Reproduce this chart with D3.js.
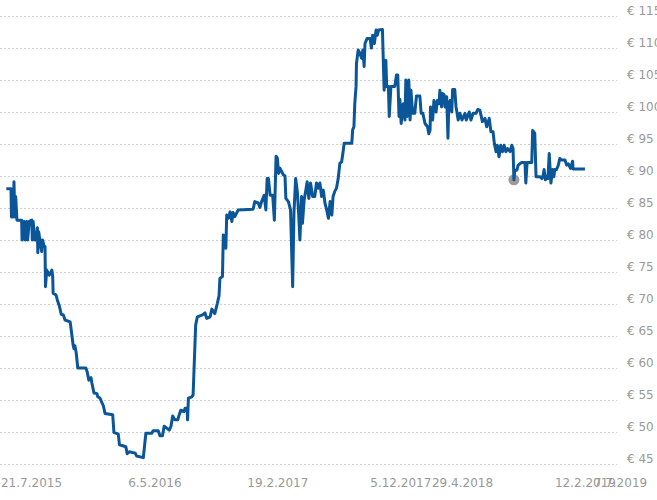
<!DOCTYPE html>
<html>
<head>
<meta charset="utf-8">
<script src="https://cdn.jsdelivr.net/npm/d3@7"></script>
<style>
  html, body { margin: 0; padding: 0; background: #fff; }
  svg { display: block; font-family: "DejaVu Sans", Verdana, sans-serif; }
</style>
</head>
<body>
<div id="chartId"></div>
<script>

// price history
var priceDates = [
  "2015-05-24","2015-06-04","2015-06-05","2015-06-09","2015-06-11","2015-06-13","2015-06-15","2015-06-18","2015-06-29","2015-06-30",
  "2015-07-05","2015-07-07","2015-07-11","2015-07-13","2015-07-17","2015-07-23","2015-07-24","2015-07-26","2015-07-30","2015-08-03",
  "2015-08-05","2015-08-06","2015-08-08","2015-08-11","2015-08-15","2015-08-17","2015-08-21","2015-08-23","2015-08-24","2015-08-27",
  "2015-09-02","2015-09-08","2015-09-10","2015-09-11","2015-09-18","2015-09-21","2015-09-26","2015-09-30","2015-10-05","2015-10-09",
  "2015-10-21","2015-10-23","2015-10-28","2015-10-30","2015-11-01","2015-11-04","2015-11-08","2015-11-27","2015-11-30","2015-12-04",
  "2015-12-09","2015-12-11","2015-12-16","2015-12-23","2015-12-25","2015-12-30","2016-01-07","2016-01-11","2016-01-29","2016-02-01",
  "2016-02-11","2016-02-14","2016-02-29","2016-03-03","2016-03-08","2016-03-22","2016-03-25","2016-04-10","2016-04-16","2016-04-30",
  "2016-05-03","2016-05-15","2016-05-19","2016-05-25","2016-05-29","2016-06-04","2016-06-10","2016-06-14","2016-06-18","2016-06-23",
  "2016-06-30","2016-07-02","2016-07-07","2016-07-15","2016-07-17","2016-07-22","2016-07-23","2016-07-25","2016-08-02","2016-08-05",
  "2016-08-08","2016-08-11","2016-08-15","2016-08-27","2016-09-02","2016-09-06","2016-09-14","2016-09-18","2016-09-25","2016-10-01",
  "2016-10-05","2016-10-07","2016-10-13","2016-10-15","2016-10-21","2016-10-23","2016-10-27","2016-10-31","2016-11-04","2016-11-07",
  "2016-11-11","2016-11-19","2016-12-24","2016-12-28","2017-01-05","2017-01-09","2017-01-13","2017-01-19","2017-01-23","2017-01-26",
  "2017-01-29","2017-02-02","2017-02-08","2017-02-12","2017-02-16","2017-02-19","2017-02-22","2017-02-25","2017-03-01","2017-03-05",
  "2017-03-09","2017-03-11","2017-03-17","2017-03-22","2017-03-27","2017-03-30","2017-04-03","2017-04-07","2017-04-10","2017-04-13",
  "2017-04-17","2017-04-19","2017-04-23","2017-04-27","2017-04-30","2017-05-04","2017-05-08","2017-05-13","2017-05-18","2017-05-22",
  "2017-05-26","2017-05-30","2017-06-03","2017-06-07","2017-06-11","2017-06-15","2017-06-19","2017-06-23","2017-06-27","2017-06-30",
  "2017-07-04","2017-07-08","2017-07-12","2017-07-16","2017-07-20","2017-07-23","2017-07-26","2017-08-13","2017-08-15","2017-08-18",
  "2017-08-20","2017-08-23","2017-08-24","2017-08-28","2017-09-01","2017-09-05","2017-09-08","2017-09-11","2017-09-13","2017-09-18",
  "2017-09-25","2017-09-28","2017-10-01","2017-10-05","2017-10-09","2017-10-12","2017-10-15","2017-10-24","2017-10-26","2017-10-28",
  "2017-11-01","2017-11-03","2017-11-07","2017-11-09","2017-11-13","2017-11-22","2017-11-26","2017-11-29","2017-12-02","2017-12-04",
  "2017-12-07","2017-12-12","2017-12-16","2017-12-18","2017-12-21","2017-12-25","2017-12-28","2017-12-30","2018-01-03","2018-01-08",
  "2018-01-12","2018-01-20","2018-01-23","2018-01-27","2018-02-01","2018-02-07","2018-02-10","2018-02-13","2018-02-14","2018-02-19",
  "2018-02-22","2018-02-27","2018-03-02","2018-03-06","2018-03-08","2018-03-12","2018-03-14","2018-03-18","2018-03-20","2018-03-24",
  "2018-03-27","2018-03-29","2018-04-01","2018-04-05","2018-04-07","2018-04-12","2018-04-15","2018-04-20","2018-04-24","2018-04-29",
  "2018-05-06","2018-05-09","2018-05-16","2018-05-20","2018-05-25","2018-06-01","2018-06-05","2018-06-10","2018-06-16","2018-06-22",
  "2018-06-26","2018-07-02","2018-07-06","2018-07-11","2018-07-14","2018-07-18","2018-07-21","2018-07-25","2018-07-29","2018-08-02",
  "2018-08-06","2018-08-10","2018-08-14","2018-08-20","2018-08-24","2018-08-27","2018-08-29","2018-08-31","2018-09-05","2018-09-08",
  "2018-09-16","2018-09-24","2018-09-26","2018-09-29","2018-10-10","2018-10-12","2018-10-17","2018-10-20","2018-10-29","2018-11-03",
  "2018-11-06","2018-11-08","2018-11-11","2018-11-15","2018-11-17","2018-11-20","2018-11-24","2018-11-28","2018-12-01","2018-12-03",
  "2018-12-07","2018-12-11","2018-12-15","2018-12-19","2018-12-27","2018-12-31","2019-01-04","2019-01-09","2019-01-14","2019-01-15",
  "2019-02-12"
];

var priceValues = [
  88.0, 88.0, 83.6, 83.6, 89.1, 83.6, 86.8, 83.1, 83.1, 80.0,
  82.9, 80.0, 82.9, 80.0, 82.9, 83.1, 80.0, 82.9, 80.0, 80.0,
  81.9, 78.0, 81.3, 80.0, 78.2, 80.0, 79.0, 79.0, 72.7, 75.3,
  74.5, 75.3, 74.3, 71.7, 71.4, 70.6, 69.6, 68.4, 68.3, 67.5,
  67.2, 66.2, 63.6, 63.0, 63.5, 62.5, 60.0, 60.0, 59.4, 58.1,
  58.5, 57.7, 56.1, 56.0, 55.5, 55.3, 54.1, 52.9, 52.7, 49.9,
  49.7, 48.0, 47.7, 46.6, 46.9, 46.7, 46.25, 46.0, 49.8, 49.8,
  50.2, 50.2, 49.4, 49.4, 50.9, 50.6, 50.3, 50.9, 52.5, 51.9,
  51.9, 52.4, 53.4, 53.2, 53.7, 53.7, 51.9, 55.3, 55.5, 55.8,
  61.25, 66.7, 68.0, 68.3, 68.6, 67.75, 68.0, 69.2, 68.5, 70.1,
  71.3, 74.0, 74.3, 80.8, 78.7, 83.9, 83.4, 84.4, 82.9, 84.3,
  83.65, 84.7, 84.8, 86.0, 85.8, 85.1, 86.0, 87.0, 84.7, 89.6,
  89.6, 87.0, 87.0, 83.1, 93.1, 92.8, 90.4, 91.2, 90.7, 90.2,
  90.0, 86.5, 86.0, 84.7, 72.7, 84.2, 89.6, 87.5, 84.2, 80.0,
  86.8, 82.6, 86.25, 87.8, 89.1, 86.5, 88.9, 86.8, 86.8, 88.9,
  88.1, 88.9, 86.8, 87.8, 85.75, 84.7, 83.4, 86.0, 83.9, 86.8,
  87.6, 88.1, 89.6, 92.0, 92.2, 93.5, 95.1, 95.1, 97.2, 97.7,
  101.3, 104.0, 107.6, 109.7, 109.2, 108.4, 109.7, 107.1, 110.7, 111.5,
  111.5, 110.0, 112.0, 110.7, 112.8, 112.0, 112.8, 112.9, 108.1, 103.4,
  108.1, 104.0, 104.0, 99.3, 104.0, 104.0, 105.8, 105.8, 99.3, 102.0,
  98.2, 101.3, 98.75, 105.0, 99.3, 105.0, 98.75, 103.4, 99.8, 99.8,
  102.5, 102.5, 99.8, 99.8, 98.2, 97.7, 96.6, 97.2, 100.8, 98.75,
  101.8, 100.0, 101.8, 101.3, 103.4, 100.8, 102.9, 102.7, 100.8, 102.4,
  95.9, 101.3, 101.8, 100.0, 103.5, 103.5, 100.8, 98.75, 99.8, 98.75,
  99.8, 98.75, 100.0, 98.75, 99.8, 99.8, 100.4, 100.3, 98.5, 99.0,
  97.7, 99.0, 96.9, 96.9, 95.1, 93.8, 94.8, 93.0, 94.8, 93.8,
  94.8, 93.8, 94.3, 93.8, 94.8, 94.3, 89.4, 90.9, 90.9, 91.7,
  92.1, 92.1, 88.9, 92.1, 92.1, 97.1, 96.7, 89.9, 89.9, 89.6,
  90.2, 91.0, 89.4, 90.0, 89.6, 93.5, 88.9, 91.0, 89.9, 91.0,
  91.0, 91.6, 92.75, 92.5, 92.5, 91.7, 91.9, 91.2, 92.3, 91.1,
  91.1
];

// axis ticks
var xTickDates = ["2015-07-21", "2016-05-06", "2017-02-19", "2017-12-05", "2018-04-29", "2019-02-12", "2019-07-07"];
var xTickLabels = ["21.7.2015", "6.5.2016", "19.2.2017", "5.12.2017", "29.4.2018", "12.2.2019", "7.7.2019"];
var yTickValues = [45, 50, 55, 60, 65, 70, 75, 80, 85, 90, 95, 100, 105, 110, 115];

// highlighted point (hover marker)
var markerDate = "2018-08-29";
var markerValue = 89.4;


var chart = {};

(function(exports) {

    "use strict";

    var full = {w: 657, h: 500};
    var plot = {left: 0, right: 617, top: 16, bottom: 464};
    var parseDate = d3.timeParse("%Y-%m-%d");

    exports.init = function() {

        var data = priceDates.map(function(d, i) {
            return {date: parseDate(d), value: priceValues[i]};
        });

        var xScale = d3.scaleTime()
                       .domain([parseDate("2015-07-21"), parseDate("2018-04-29")])
                       .range([31, 462]);

        var yScale = d3.scaleLinear()
                       .domain([45, 115])
                       .range([plot.bottom, plot.top]);

        var svg = d3.select("#chartId")
                    .append("svg")
                    .attr("width", full.w)
                    .attr("height", full.h);

        // dotted horizontal grid
        svg.append("g")
           .selectAll("line")
           .data(yTickValues)
           .enter()
           .append("line")
             .attr("x1", plot.left)
             .attr("x2", plot.right)
             .attr("y1", function(d) { return Math.round(yScale(d)) + 0.5; })
             .attr("y2", function(d) { return Math.round(yScale(d)) + 0.5; })
             .attr("stroke", "#cfcfcf")
             .attr("stroke-width", 1)
             .attr("stroke-dasharray", "2,2");

        // y labels on the right
        var yAxis = d3.axisRight(yScale)
                      .tickValues(yTickValues)
                      .tickSize(0)
                      .tickPadding(0)
                      .tickFormat(function(d) { return "\u20ac " + d; });

        var yAxisGroup = svg.append("g")
                            .attr("transform", "translate(627,0)")
                            .call(yAxis);
        yAxisGroup.select(".domain").remove();
        yAxisGroup.selectAll("text")
                  .attr("dy", "-0.15em")
                  .attr("fill", "#999")
                  .style("font-size", "12px")
                  .style("font-family", "DejaVu Sans, Verdana, sans-serif");

        // x labels
        var xAxis = d3.axisBottom(xScale)
                      .tickValues(xTickDates.map(parseDate))
                      .tickSize(0)
                      .tickPadding(0)
                      .tickFormat(function(d, i) { return xTickLabels[i]; });

        var xAxisGroup = svg.append("g")
                            .attr("transform", "translate(0,478)")
                            .call(xAxis);
        xAxisGroup.select(".domain").remove();
        xAxisGroup.selectAll("text")
                  .attr("fill", "#999")
                  .style("font-size", "12px")
                  .style("font-family", "DejaVu Sans, Verdana, sans-serif")
                  .attr("text-anchor", function(d, i) { return i === xTickLabels.length - 1 ? "end" : "middle"; });

        // hover marker
        svg.append("circle")
           .attr("cx", xScale(parseDate(markerDate)))
           .attr("cy", yScale(markerValue))
           .attr("r", 5.5)
           .attr("fill", "#8a8a8a")
           .attr("fill-opacity", 0.85);

        var line = d3.line()
                     .x(function(d) { return xScale(d.date); })
                     .y(function(d) { return yScale(d.value); });

        svg.append("path")
           .datum(data)
           .attr("d", line)
           .attr("fill", "none")
           .attr("stroke", "#0a5699")
           .attr("stroke-width", 3)
           .attr("stroke-linejoin", "round");
    };

})(chart);

chart.init();

</script>
</body>
</html>
